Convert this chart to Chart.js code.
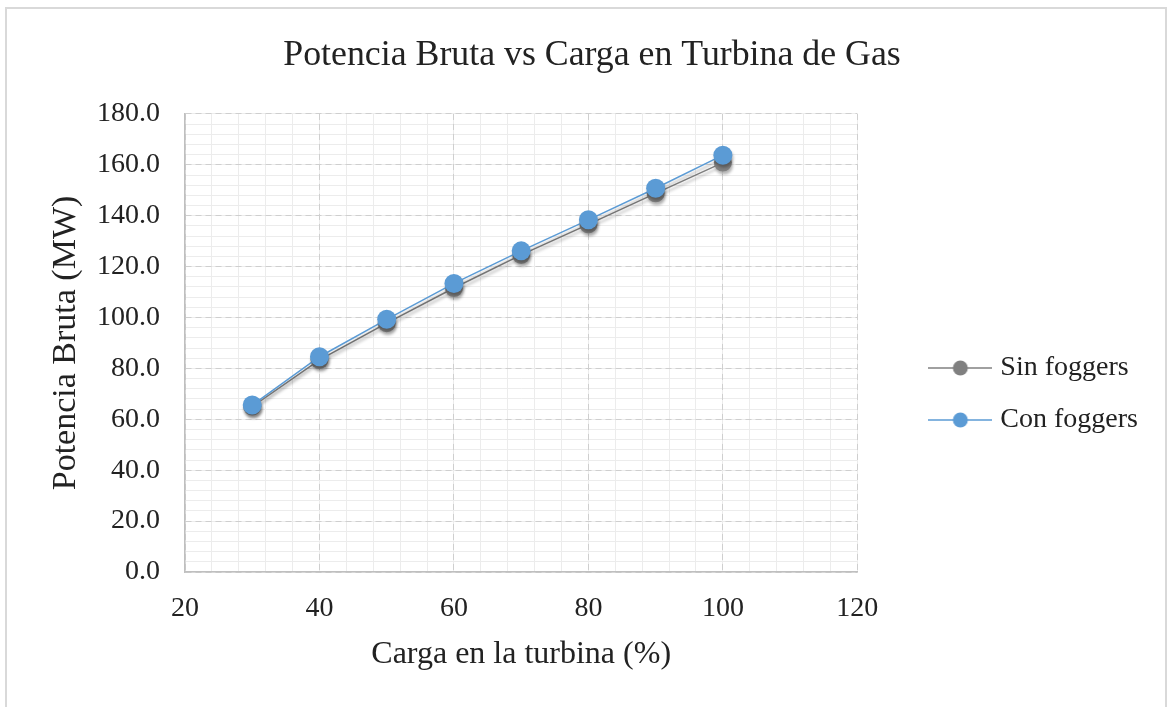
<!DOCTYPE html>
<html>
<head>
<meta charset="utf-8">
<script src="https://cdn.jsdelivr.net/npm/chart.js@4"></script>
<style>
  html, body { margin: 0; padding: 0; background: #fff; overflow: hidden; }
  #frame { position: absolute; left: 5px; top: 7px; width: 1158px; height: 760px; border: 2px solid #d9d9d9; }
  #chart { position: absolute; left: 0; top: 0; }
</style>
</head>
<body>
<div id="frame"></div>
<canvas id="chart" width="1167" height="707"></canvas>
<script>
// values
const carga = [30, 40, 50, 60, 70, 80, 90, 100];
const sinFoggers = [65.0, 83.4, 97.8, 111.6, 124.6, 136.6, 148.8, 160.9];
const conFoggers = [65.6, 84.6, 99.3, 113.4, 126.2, 138.4, 150.8, 163.8];
const seriesNames = ["Sin foggers", "Con foggers"];
const seriesColors = ["#808080", "#5b9bd5"];

const serif = "'Liberation Serif', 'Times New Roman', serif";
const textColor = "#222";

function toPoints(ys) {
    return carga.map((x, i) => ({ x: x, y: ys[i] }));
}

// little line+marker image for the legend
function legendMark(color) {
    const c = document.createElement("canvas");
    c.width = 64;
    c.height = 20;
    const g = c.getContext("2d");
    g.strokeStyle = color;
    g.lineWidth = 1.5;
    g.beginPath();
    g.moveTo(0, 10);
    g.lineTo(64, 10);
    g.stroke();
    g.fillStyle = color;
    g.beginPath();
    g.arc(32, 10, 7.5, 0, Math.PI * 2);
    g.fill();
    return c;
}
const marks = seriesColors.map(legendMark);

const shadow = {
    id: "shadow",
    beforeDatasetDraw(chart) {
        const ctx = chart.ctx;
        ctx.save();
        ctx.shadowColor = "rgba(0,0,0,0.3)";
        ctx.shadowOffsetX = 1;
        ctx.shadowOffsetY = 3;
        ctx.shadowBlur = 3;
    },
    afterDatasetDraw(chart) {
        chart.ctx.restore();
    }
};

const ctx = document.getElementById("chart").getContext("2d");
new Chart(ctx, {
    type: "line",
    data: {
        datasets: [
            {
                label: seriesNames[0],
                data: toPoints(sinFoggers),
                borderColor: seriesColors[0],
                backgroundColor: seriesColors[0],
                borderWidth: 1.5,
                pointRadius: 9,
                pointBorderWidth: 0,
                tension: 0,
                order: 1
            },
            {
                label: seriesNames[1],
                data: toPoints(conFoggers),
                borderColor: seriesColors[1],
                backgroundColor: seriesColors[1],
                borderWidth: 1.5,
                pointRadius: 9.5,
                pointBorderWidth: 0,
                tension: 0,
                order: 0
            }
        ]
    },
    options: {
        responsive: false,
        animation: false,
        layout: { padding: { top: 10, left: 36, right: 19, bottom: 10 } },
        plugins: {
            tooltip: { enabled: false },
            title: {
                display: true,
                text: "Potencia Bruta vs Carga en Turbina de Gas",
                color: textColor,
                font: { family: serif, size: 35.8, weight: "normal" },
                padding: { top: 24, bottom: 37 }
            },
            legend: {
                position: "right",
                maxWidth: 400,
                title: { display: true, text: "", padding: 33.3 },
                labels: {
                    usePointStyle: true,
                    pointStyleWidth: 52,
                    padding: 24,
                    color: textColor,
                    font: { family: serif, size: 28 },
                    sort: (a, b) => a.datasetIndex - b.datasetIndex,
                    generateLabels(chart) {
                        const items = Chart.defaults.plugins.legend.labels.generateLabels(chart);
                        items.forEach(it => { it.pointStyle = marks[it.datasetIndex]; });
                        return items;
                    }
                }
            }
        },
        scales: {
            xMinor: {
                type: "linear",
                position: "bottom",
                min: 20, max: 120,
                ticks: { display: false, stepSize: 4 },
                grid: { color: "#ececec", drawTicks: false },
                border: { display: false },
                afterFit: s => { s.height = 0; }
            },
            yMinor: {
                type: "linear",
                position: "left",
                min: 0, max: 180,
                ticks: { display: false, stepSize: 4 },
                grid: { color: "#ececec", drawTicks: false },
                border: { display: false },
                afterFit: s => { s.width = 0; }
            },
            x: {
                type: "linear",
                position: "bottom",
                min: 20, max: 120,
                ticks: { stepSize: 20, padding: 20, color: textColor, font: { family: serif, size: 28 } },
                grid: { color: "#cfcfcf", drawTicks: false },
                border: { color: "#bfbfbf", width: 1.5, dash: [6, 4] },
                title: {
                    display: true,
                    text: "Carga en la turbina (%)",
                    color: textColor,
                    font: { family: serif, size: 32 },
                    padding: { top: 0, bottom: 22.8 }
                },
                afterFit: s => { s.height = 125; }
            },
            y: {
                type: "linear",
                position: "left",
                min: 0, max: 180,
                ticks: {
                    stepSize: 20, padding: 25, color: textColor,
                    font: { family: serif, size: 28 },
                    callback: v => v.toFixed(1)
                },
                grid: { color: "#cfcfcf", drawTicks: false },
                border: { color: "#bfbfbf", width: 1.5, dash: [6, 4] },
                title: {
                    display: true,
                    text: "Potencia Bruta (MW)",
                    color: textColor,
                    font: { family: serif, size: 34 },
                    padding: { top: 9.6, bottom: 0 }
                },
                afterFit: s => { s.width = 149; }
            },
            gap: {
                type: "linear",
                position: "right",
                display: true,
                ticks: { display: false },
                grid: { display: false },
                border: { display: false },
                afterFit: s => { s.width = 53; }
            }
        }
    },
    plugins: [shadow]
});
</script>
</body>
</html>
